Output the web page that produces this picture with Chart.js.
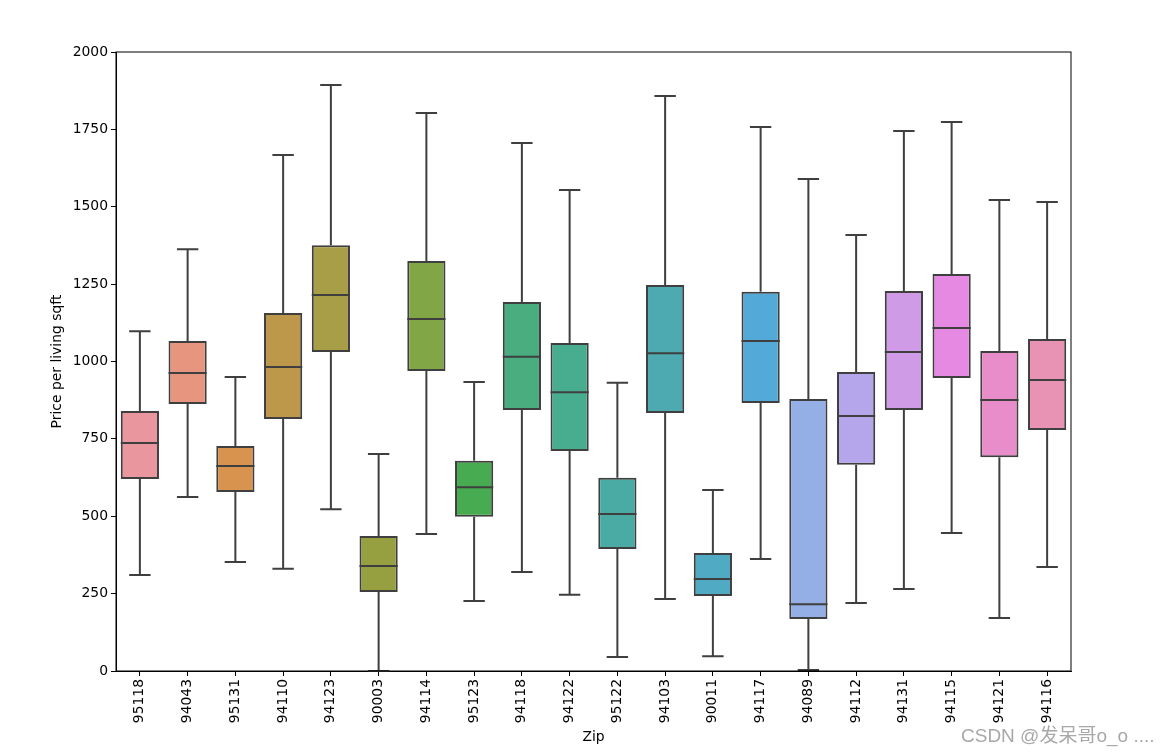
<!DOCTYPE html>
<html>
<head>
<meta charset="utf-8">
<script src="https://cdn.jsdelivr.net/npm/chart.js@4"></script>
<style>
  body { margin: 0; background: #fff; }
</style>
</head>
<body>
<canvas id="chart" width="1169" height="753"></canvas>
<script>
// box stats, one entry per zip
var zips = ['95118','94043','95131','94110','94123','90003','94114','95123','94118','94122',
            '95122','94103','90011','94117','94089','94112','94131','94115','94121','94116'];
var whiskerLow  = [310, 562, 352, 330, 523,   0, 443, 226, 320, 246,  45, 233,  48, 362,    3, 220, 265, 446, 171, 336];
var q1          = [620, 863, 578, 814, 1031, 255, 969, 498, 843, 711, 394, 834, 242, 866,  168, 666, 843, 947, 691, 779];
var median      = [737, 963, 662, 982, 1215, 339, 1137, 594, 1015, 901, 507, 1027, 297, 1066, 216, 824, 1031, 1108, 876, 940];
var q3          = [840, 1066, 727, 1157, 1376, 436, 1325, 679, 1192, 1060, 624, 1247, 381, 1225, 879, 966, 1228, 1283, 1034, 1073];
var whiskerHigh = [1098, 1363, 950, 1667, 1893, 701, 1803, 934, 1706, 1554, 931, 1858, 585, 1758, 1590, 1409, 1745, 1774, 1522, 1515];

var colors = ['#e9969f','#e89580','#d8944e','#bd984a','#a79e47','#96a040','#80a646','#47ac51','#49ad80','#48ac8e',
              '#49aba4','#4daab1','#50aac3','#53a9d7','#94aee6','#b5a6ec','#cf9be6','#e589e2','#e88dc9','#e893b4'];

var lineColor = '#3f3f3f';

var boxPlugin = {
  id: 'boxParts',
  afterDatasetsDraw: function(chart) {
    var ctx = chart.ctx;
    var y = chart.scales.y;
    var meta = chart.getDatasetMeta(0);
    ctx.save();
    ctx.strokeStyle = lineColor;
    ctx.lineWidth = 2;
    meta.data.forEach(function(bar, i) {
      var x = bar.x;
      var half = bar.width / 2;
      var cap = bar.width * 0.28;
      var yLo = y.getPixelForValue(whiskerLow[i]);
      var yQ1 = y.getPixelForValue(q1[i]);
      var yMed = y.getPixelForValue(median[i]);
      var yQ3 = y.getPixelForValue(q3[i]);
      var yHi = y.getPixelForValue(whiskerHigh[i]);
      ctx.beginPath();
      ctx.moveTo(x, yQ3); ctx.lineTo(x, yHi);
      ctx.moveTo(x - cap, yHi); ctx.lineTo(x + cap, yHi);
      ctx.moveTo(x, yQ1); ctx.lineTo(x, yLo);
      ctx.moveTo(x - cap, yLo); ctx.lineTo(x + cap, yLo);
      ctx.moveTo(x - half, yMed); ctx.lineTo(x + half, yMed);
      ctx.stroke();
    });
    ctx.restore();
  },
  afterDraw: function(chart) {
    var ctx = chart.ctx;
    var a = chart.chartArea;
    ctx.save();
    ctx.strokeStyle = '#000';
    ctx.lineWidth = 1;
    ctx.strokeRect(a.left, a.top, a.right - a.left, a.bottom - a.top);
    // watermark
    ctx.fillStyle = '#a8a8a8';
    ctx.font = '19px "Liberation Sans", "Noto Sans CJK SC", sans-serif';
    ctx.textBaseline = 'alphabetic';
    ctx.fillText('CSDN @发呆哥o_o ....', 961, 742);
    ctx.restore();
  }
};

var tickFont = { family: 'DejaVu Sans', size: 13.9 };

new Chart(document.getElementById('chart'), {
  type: 'bar',
  data: {
    labels: zips,
    datasets: [{
      data: zips.map(function(z, i) { return [q1[i], q3[i]]; }),
      backgroundColor: colors,
      borderColor: lineColor,
      borderWidth: 2,
      borderSkipped: false,
      barPercentage: 0.8,
      categoryPercentage: 1
    }]
  },
  options: {
    responsive: false,
    animation: false,
    devicePixelRatio: 1,
    layout: { padding: { top: 52, right: 98, left: 0, bottom: 0 } },
    plugins: { legend: { display: false }, tooltip: { enabled: false } },
    scales: {
      x: {
        afterFit: function(s) { s.height = 82; },
        grid: { display: true, drawOnChartArea: false, offset: false, tickLength: 5, tickColor: '#000' },
        border: { display: true, color: '#000' },
        ticks: { color: '#000', font: tickFont, minRotation: 90, maxRotation: 90, autoSkip: false, padding: 3 },
        title: { display: true, text: 'Zip', color: '#000', font: tickFont, padding: { top: 0, bottom: 7 } }
      },
      y: {
        min: 0,
        max: 2000,
        afterFit: function(s) { s.width = 116; },
        grid: { display: true, drawOnChartArea: false, tickLength: 5, tickColor: '#000' },
        border: { display: true, color: '#000' },
        ticks: { color: '#000', font: tickFont, stepSize: 250, padding: 3,
                 callback: function(v) { return String(v); } },
        title: { display: true, text: 'Price per living sqft', color: '#000', font: tickFont, padding: { top: 49, bottom: 0 } }
      }
    }
  },
  plugins: [boxPlugin]
});
</script>
</body>
</html>
